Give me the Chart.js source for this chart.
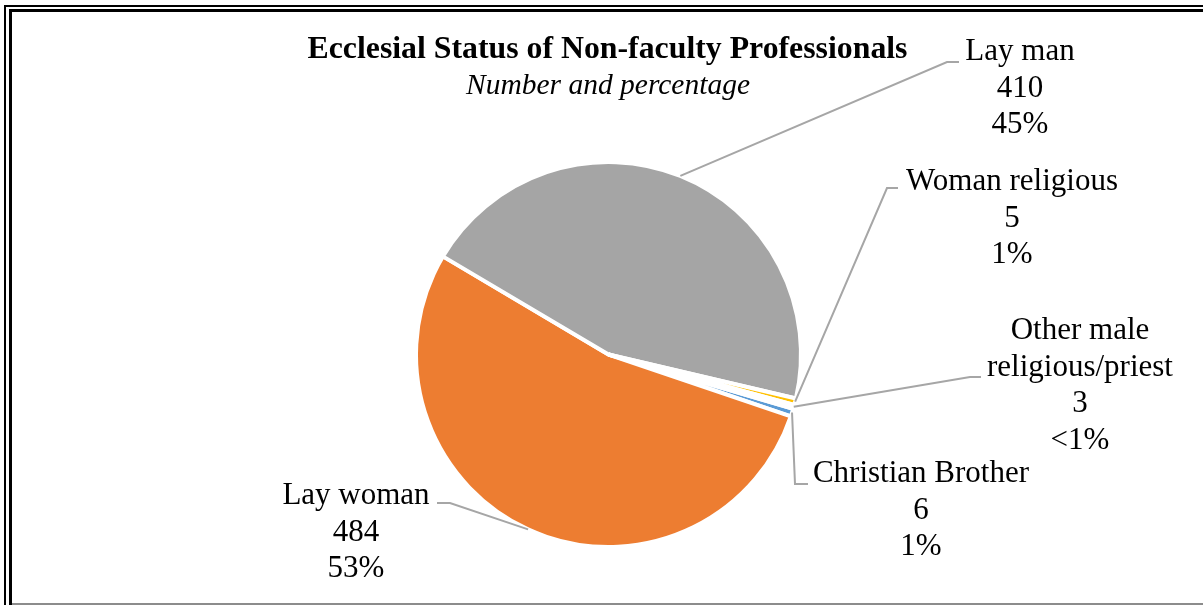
<!DOCTYPE html>
<html>
<head>
<meta charset="utf-8">
<script src="https://cdn.jsdelivr.net/npm/chart.js@4"></script>
<style>
  html, body { margin: 0; padding: 0; background: #fff; }
  #wrap { width: 1203px; height: 605px; }
</style>
</head>
<body>
<div id="wrap"><canvas id="myChart" width="1203" height="605"></canvas></div>
<script>
// pie chart - ecclesial status

const categories = [
  'Christian Brother',
  'Lay woman',
  'Lay man',
  'Woman religious',
  'Other male religious/priest'
];
const counts = [6, 484, 410, 5, 3];
const percentLabels = ['1%', '53%', '45%', '1%', '<1%'];
const colors = ['#5B9BD5', '#ED7D31', '#A5A5A5', '#FFC000', '#4472C4'];

// where each label sits: text centre, first line y, leader elbow + tail
const labelSpots = [
  { lines: ['Christian Brother'], x: 921, y: 474, elbow: [795, 484], tail: [808, 484] },
  { lines: ['Lay woman'], x: 356, y: 496, elbow: [450, 503], tail: [437, 503] },
  { lines: ['Lay man'], x: 1020, y: 52, elbow: [947, 62], tail: [959, 62] },
  { lines: ['Woman religious'], x: 1012, y: 182, elbow: [887, 188], tail: [898, 188] },
  { lines: ['Other male', 'religious/priest'], x: 1080, y: 331, elbow: [970, 377], tail: [981, 377] }
];

const serif = '"Liberation Serif", "Times New Roman", serif';

const frame = {
  id: 'frame',
  beforeDraw(chart) {
    const ctx = chart.ctx;
    ctx.save();
    ctx.strokeStyle = '#000';
    ctx.lineWidth = 2;
    ctx.beginPath();
    ctx.moveTo(5, 605); ctx.lineTo(5, 6); ctx.lineTo(1203, 6);
    ctx.stroke();
    ctx.lineWidth = 3;
    ctx.beginPath();
    ctx.moveTo(10.5, 605); ctx.lineTo(10.5, 10.5); ctx.lineTo(1203, 10.5);
    ctx.stroke();
    ctx.strokeStyle = '#8c8c8c';
    ctx.lineWidth = 2;
    ctx.beginPath();
    ctx.moveTo(12, 604); ctx.lineTo(1203, 604);
    ctx.stroke();
    ctx.restore();
  }
};

const pieLabels = {
  id: 'pieLabels',
  afterDraw(chart) {
    const ctx = chart.ctx;
    const arcs = chart.getDatasetMeta(0).data;
    ctx.save();

    // titles
    ctx.fillStyle = '#000';
    ctx.textAlign = 'center';
    ctx.textBaseline = 'middle';
    ctx.font = 'bold 31.8px ' + serif;
    ctx.fillText('Ecclesial Status of Non-faculty Professionals', 607.5, 50);
    ctx.font = 'italic 29.5px ' + serif;
    ctx.fillText('Number and percentage', 608, 86);

    arcs.forEach((arc, i) => {
      const p = arc.getProps(['x', 'y', 'startAngle', 'endAngle', 'outerRadius'], true);
      const mid = (p.startAngle + p.endAngle) / 2;
      const sx = p.x + Math.cos(mid) * p.outerRadius;
      const sy = p.y + Math.sin(mid) * p.outerRadius;
      const spot = labelSpots[i];

      ctx.strokeStyle = '#A6A6A6';
      ctx.lineWidth = 2;
      ctx.beginPath();
      ctx.moveTo(sx, sy);
      ctx.lineTo(spot.elbow[0], spot.elbow[1]);
      ctx.lineTo(spot.tail[0], spot.tail[1]);
      ctx.stroke();

      const text = spot.lines.concat([String(counts[i]), percentLabels[i]]);
      ctx.fillStyle = '#000';
      ctx.font = '31px ' + serif;
      text.forEach((t, k) => ctx.fillText(t, spot.x, spot.y + k * 36.5));
    });
    ctx.restore();
  }
};

const data = {
  labels: categories,
  datasets: [{
    data: counts,
    backgroundColor: colors,
    borderColor: '#fff',
    borderWidth: 4
  }]
};

const config = {
  type: 'pie',
  data: data,
  options: {
    responsive: false,
    animation: false,
    rotation: 106.37,
    layout: { padding: { top: 160, bottom: 56, left: 414, right: 400 } },
    plugins: {
      legend: { display: false },
      tooltip: { enabled: false }
    }
  },
  plugins: [frame, pieLabels]
};

const myChart = new Chart(document.getElementById('myChart'), config);
</script>
</body>
</html>
